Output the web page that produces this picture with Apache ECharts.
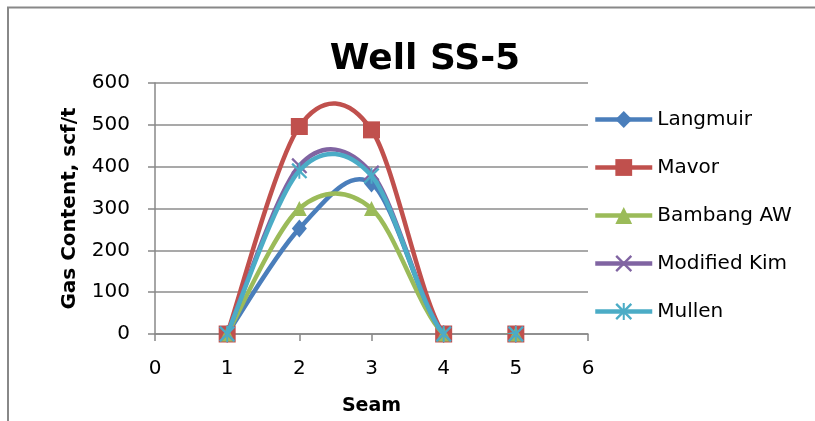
<!DOCTYPE html>
<html>
<head>
<meta charset="utf-8">
<script src="https://cdn.jsdelivr.net/npm/echarts@6/dist/echarts.min.js"></script>
<style>
html,body{margin:0;padding:0;background:#fff;}
#chart{width:815px;height:421px;}
</style>
</head>
<body>
<div id="chart"></div>
<script>
const seams = [1, 2, 3, 4, 5];
const langmuir = [0, 252, 360, 0, 0];
const mavor = [0, 496, 488, 0, 0];
const bambang = [0, 300, 300, 0, 0];
const modifiedKim = [0, 402, 385, 0, 0];
const mullen = [0, 390, 378, 0, 0];
const seriesNames = ['Langmuir', 'Mavor', 'Bambang AW', 'Modified Kim', 'Mullen'];
const yTicks = [0, 100, 200, 300, 400, 500, 600];
const xTicks = [0, 1, 2, 3, 4, 5, 6];

const FONT = '"DejaVu Sans", sans-serif';
const xPath = 'path://M0,1 L1,0 L5,4 L9,0 L10,1 L6,5 L10,9 L9,10 L5,6 L1,10 L0,9 L4,5 Z';
const starPath = 'path://M0,1 L1,0 L5,4 L9,0 L10,1 L6,5 L10,9 L9,10 L5,6 L1,10 L0,9 L4,5 Z M4.4,0 L5.6,0 L5.6,10 L4.4,10 Z';

function pairs(vals) { return seams.map((s, i) => [s, vals[i]]); }

const defs = [
  {name: seriesNames[0], data: langmuir, color: '#4A7EBB', symbol: 'diamond', size: [15, 18]},
  {name: seriesNames[1], data: mavor, color: '#C0504D', symbol: 'rect', size: 17},
  {name: seriesNames[2], data: bambang, color: '#9BBB59', symbol: 'triangle', size: 15},
  {name: seriesNames[3], data: modifiedKim, color: '#8064A2', symbol: xPath, size: 16},
  {name: seriesNames[4], data: mullen, color: '#4BACC6', symbol: starPath, size: 16}
];
const LINE_W = 4.5;

// Excel-like smoothed curve (cardinal spline), drawn through the axis scales
function curveSeries(d, idx) {
  const n = seams.length;
  return {
    name: d.name, type: 'custom', clip: true, z: 2 + idx * 2,
    data: pairs(d.data), encode: {x: 0, y: 1},
    silent: true,
    renderItem: function (params, api) {
      const i = params.dataIndex;
      if (i >= n - 1) return null;
      const P = k => {
        const j = Math.max(0, Math.min(n - 1, k));
        return api.coord([seams[j], d.data[j]]);
      };
      const p0 = P(i - 1), p1 = P(i), p2 = P(i + 1), p3 = P(i + 2);
      const t = 0.16;
      return {
        type: 'bezierCurve',
        shape: {
          x1: p1[0], y1: p1[1], x2: p2[0], y2: p2[1],
          cpx1: p1[0] + (p2[0] - p0[0]) * t, cpy1: p1[1] + (p2[1] - p0[1]) * t,
          cpx2: p2[0] - (p3[0] - p1[0]) * t, cpy2: p2[1] - (p3[1] - p1[1]) * t
        },
        style: {stroke: d.color, lineWidth: LINE_W, fill: 'none', lineCap: 'round'}
      };
    }
  };
}

function markerSeries(d, idx) {
  return {
    name: d.name, type: 'line', data: pairs(d.data), z: 3 + idx * 2,
    symbol: d.symbol, symbolSize: d.size, showAllSymbol: true,
    lineStyle: {color: d.color, width: LINE_W, opacity: 0},
    itemStyle: {color: d.color, borderWidth: 0},
    emphasis: {disabled: true}
  };
}

const chart = echarts.init(document.getElementById('chart'), null, {renderer: 'canvas'});
chart.setOption({
  animation: false,
  backgroundColor: '#fff',
  title: {
    text: 'Well SS-5',
    left: 420, top: 37, textAlign: 'center', padding: 5,
    textStyle: {fontFamily: FONT, fontSize: 36, fontWeight: 'bold', color: '#000'}
  },
  grid: {left: 155, right: 227, top: 83, bottom: 86, containLabel: false},
  legend: {
    orient: 'vertical', left: 593, top: 109, padding: 0,
    itemWidth: 57, itemHeight: 21, itemGap: 27,
    textStyle: {fontFamily: FONT, fontSize: 20, color: '#000', lineHeight: 21},
    data: defs.map(d => ({
      name: d.name,
      lineStyle: {color: d.color, width: LINE_W, opacity: 1}
    }))
  },
  xAxis: {
    type: 'value', min: xTicks[0], max: xTicks[xTicks.length - 1], interval: 1,
    name: 'Seam', nameLocation: 'middle', nameGap: 63,
    nameTextStyle: {fontFamily: FONT, fontSize: 19, fontWeight: 'bold', color: '#000'},
    axisLine: {show: true, lineStyle: {color: '#888', width: 1.5}},
    axisTick: {show: true, inside: false, length: 7, lineStyle: {color: '#888', width: 1.5}},
    axisLabel: {fontFamily: FONT, fontSize: 20, color: '#000', margin: 25},
    splitLine: {show: false}
  },
  yAxis: {
    type: 'value', min: yTicks[0], max: yTicks[yTicks.length - 1], interval: 100,
    name: 'Gas Content, scf/t', nameLocation: 'middle', nameGap: 75, nameRotate: 90,
    nameTextStyle: {fontFamily: FONT, fontSize: 20, fontWeight: 'bold', color: '#000'},
    axisLine: {show: true, lineStyle: {color: '#888', width: 1.5}},
    axisTick: {show: true, inside: false, length: 7, lineStyle: {color: '#888', width: 1.5}},
    axisLabel: {fontFamily: FONT, fontSize: 20, color: '#000', margin: 25},
    splitLine: {show: true, lineStyle: {color: '#8c8c8c', width: 1.5}}
  },
  graphic: [{
    type: 'polyline',
    shape: {points: [[8, 421], [8, 7.5], [815, 7.5]]},
    style: {stroke: '#888', lineWidth: 2, fill: null}
  }],
  series: defs.map(markerSeries).concat(defs.map(curveSeries))
});
</script>
</body>
</html>
